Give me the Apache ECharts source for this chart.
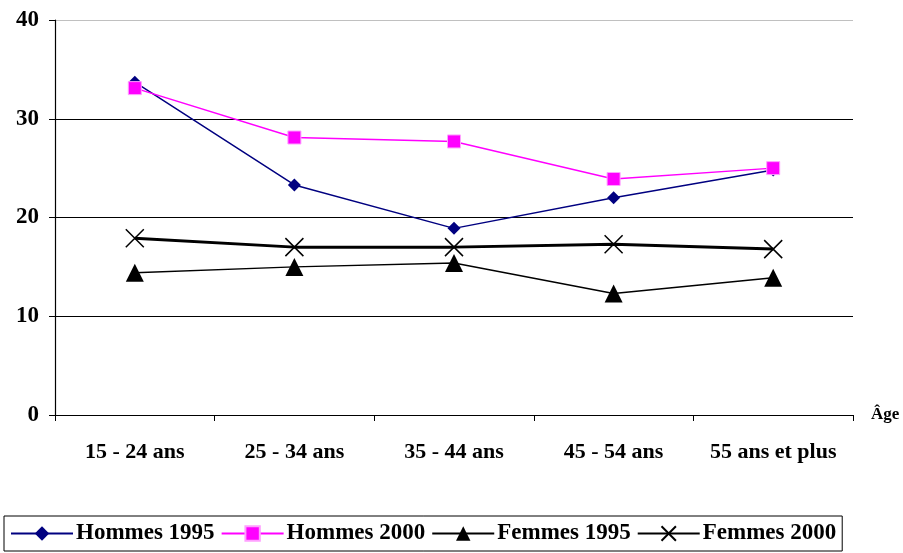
<!DOCTYPE html>
<html><head><meta charset="utf-8">
<script src="https://cdn.jsdelivr.net/npm/echarts@6/dist/echarts.min.js"></script>
<style>html,body{margin:0;padding:0;background:#fff}#c{width:903px;height:553px}</style>
</head><body><div id="c"></div>
<script>
const categories = ['15 - 24 ans','25 - 34 ans','35 - 44 ans','45 - 54 ans','55 ans et plus'];
const hommes1995 = [33.7, 23.3, 18.9, 22.0, 24.8];
const hommes2000 = [33.1, 28.1, 27.7, 23.9, 25.0];
const femmes1995 = [14.4, 15.0, 15.4, 12.3, 13.9];
const femmes2000 = [17.9, 17.0, 17.0, 17.3, 16.8];
const yTicks = [0, 10, 20, 30, 40];

const FONT = '"Liberation Serif", "Times New Roman", serif';
const chart = echarts.init(document.getElementById('c'));
chart.setOption({
  animation: false,
  textStyle: {fontFamily: FONT},
  grid: {left: 55, right: 50, top: 20, bottom: 138, containLabel: false},
  legend: {
    left: 4, top: 516, width: 852, height: 36,
    padding: [6, 6, 6, 6],
    borderColor: '#000', borderWidth: 1,
    itemWidth: 62, itemHeight: 18, itemGap: 6,
    textStyle: {fontFamily: FONT, fontWeight: 'bold', fontSize: 23, color: '#000', padding: [0,0,0,-2]},
    data: ['Hommes 1995','Hommes 2000','Femmes 1995','Femmes 2000']
  },
  xAxis: {
    type: 'category', data: categories, boundaryGap: true,
    name: 'Âge', nameLocation: 'end', nameGap: 18,
    nameTextStyle: {fontFamily: FONT, fontWeight: 'bold', fontSize: 17, color: '#000', verticalAlign: 'middle'},
    axisLine: {lineStyle: {color: '#000', width: 1.2}},
    axisTick: {show: true, inside: false, length: 6, interval: 0, alignWithLabel: false, lineStyle: {color: '#000'}},
    axisLabel: {fontFamily: FONT, fontWeight: 'bold', fontSize: 22, color: '#000', margin: 26, interval: 0, hideOverlap: false},
    splitLine: {show: false}
  },
  yAxis: {
    type: 'value', min: 0, max: 40, interval: 10,
    axisLine: {show: true, lineStyle: {color: '#000', width: 1.2}},
    axisTick: {show: true, length: 6, lineStyle: {color: '#000'}},
    axisLabel: {fontFamily: FONT, fontWeight: 'bold', fontSize: 23, color: '#000', margin: 16,
      formatter: v => yTicks.includes(v) ? String(v) : ''},
    splitLine: {show: true, lineStyle: {color: ['#000','#000','#000','#000','#c0c0c0'], width: 1}}
  },
  series: [
    {name: 'Hommes 1995', type: 'line', data: hommes1995, symbol: 'diamond', symbolSize: 13,
      lineStyle: {color: '#000080', width: 1.5}, itemStyle: {color: '#000080'}},
    {name: 'Hommes 2000', type: 'line', data: hommes2000, symbol: 'rect', symbolSize: 13,
      lineStyle: {color: '#ff00ff', width: 1.5}, itemStyle: {color: '#ff00ff', borderColor: '#ffa0ff', borderWidth: 1}},
    {name: 'Femmes 1995', type: 'line', data: femmes1995, symbol: 'triangle', symbolSize: 18,
      lineStyle: {color: '#000', width: 1.5}, itemStyle: {color: '#000'}},
    {name: 'Femmes 2000', type: 'line', data: femmes2000, symbol: 'path://M0,0L10,10M10,0L0,10', symbolSize: 18,
      lineStyle: {color: '#000', width: 3}, itemStyle: {color: 'rgba(0,0,0,0)', borderColor: '#000', borderWidth: 1.5}}
  ]
});
</script></body></html>
